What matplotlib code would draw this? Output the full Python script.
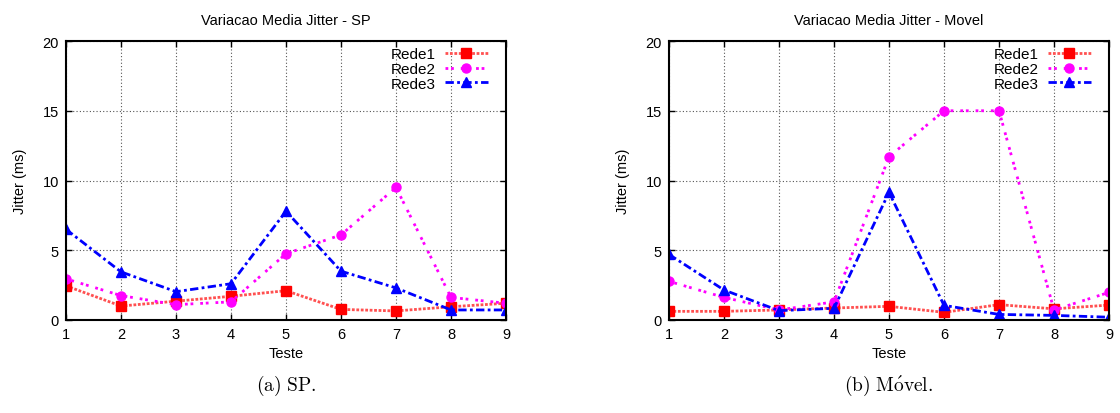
import matplotlib
matplotlib.use("Agg")
import matplotlib.pyplot as plt

plt.rcParams['font.family'] = ['Liberation Sans', 'DejaVu Sans']
plt.rcParams['mathtext.fontset'] = 'cm'

testes = [1, 2, 3, 4, 5, 6, 7, 8, 9]

# Variacao Media Jitter - SP
sp_rede1 = [2.45, 1.0, 1.35, 1.7, 2.1, 0.76, 0.65, 0.95, 1.2]
sp_rede2 = [2.95, 1.75, 1.1, 1.3, 4.75, 6.1, 9.5, 1.62, 1.2]
sp_rede3 = [6.5, 3.45, 2.03, 2.6, 7.8, 3.5, 2.3, 0.72, 0.72]

# Variacao Media Jitter - Movel
mv_rede1 = [0.62, 0.62, 0.72, 0.86, 0.98, 0.55, 1.1, 0.8, 1.07]
mv_rede2 = [2.77, 1.62, 0.72, 1.3, 11.7, 15.0, 15.0, 0.72, 1.98]
mv_rede3 = [4.7, 2.15, 0.67, 0.84, 9.15, 1.05, 0.4, 0.33, 0.2]

titles = ['Variacao Media Jitter - SP', 'Variacao Media Jitter - Movel']
# (a) SP.  /  (b) Móvel.  -- typeset in Computer Modern via mathtext
captions = [r'$\mathrm{(a)\ SP.}$', r'$\mathrm{(b)\ M\acute{o}vel.}$']

fig = plt.figure(figsize=(11.2, 4.14), dpi=100)
ax_a = fig.add_axes([66 / 1120, 1 - 321 / 414, 440 / 1120, 279 / 414])
ax_b = fig.add_axes([669 / 1120, 1 - 321 / 414, 440 / 1120, 279 / 414])


def draw_panel(ax, r1, r2, r3, title):
    ax.plot(testes, r1, color='#ff5050', ls=(0, (1, 0.6)), lw=2.0,
            marker='s', ms=6.5, mfc='#ff0000', mec='#ff0000', label='Rede1')
    ax.plot(testes, r2, color='#ff00ff', ls=(0, (1, 1, 1, 2.5)), lw=2.0,
            marker='o', ms=6.5, mfc='#ff00ff', mec='#ff00ff', label='Rede2')
    ax.plot(testes, r3, color='#0000ff', ls=(0, (3, 1.2, 1, 1.2)), lw=2.0,
            marker='^', ms=6.5, mfc='#0000ff', mec='#0000ff', label='Rede3')
    ax.set_xlim(1, 9)
    ax.set_ylim(0, 20)
    ax.set_xticks(testes)
    ax.set_yticks([0, 5, 10, 15, 20])
    ax.grid(True, color='#555555', ls=(0, (1, 2)), lw=0.8)
    ax.tick_params(direction='in', top=True, right=True, length=4,
                   width=1, labelsize=10.5, pad=5)
    for s in ax.spines.values():
        s.set_linewidth(1.5)
    ax.set_title(title, fontsize=10.5, pad=12)
    ax.set_xlabel('Teste', fontsize=10.5, labelpad=4)
    ax.set_ylabel('Jitter (ms)', fontsize=10.5, labelpad=11)
    ax.legend(loc='upper right', bbox_to_anchor=(0.972, 1.0), frameon=False,
              markerfirst=False, fontsize=11, handlelength=2.8,
              handletextpad=0.6, labelspacing=0.05, borderaxespad=0.3,
              borderpad=0.1)


draw_panel(ax_a, sp_rede1, sp_rede2, sp_rede3, titles[0])
draw_panel(ax_b, mv_rede1, mv_rede2, mv_rede3, titles[1])

fig.text(286 / 1120, 1 - 386 / 414, captions[0], ha='center', va='center',
         fontsize=14)
fig.text(889 / 1120, 1 - 386 / 414, captions[1], ha='center', va='center',
         fontsize=14)

fig.savefig('out.png', dpi=100)
